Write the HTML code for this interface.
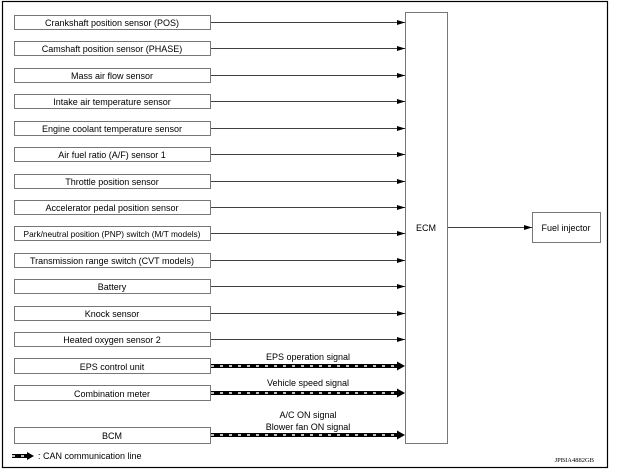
<!DOCTYPE html>
<html><head><style>
body{margin:0;background:#fff;}
svg{display:block;font-family:"Liberation Sans",Arial,sans-serif;}
</style></head><body>
<svg width="622" height="475" viewBox="0 0 622 475" xmlns="http://www.w3.org/2000/svg">
<defs>
<marker id="a" markerWidth="8" markerHeight="6" refX="8" refY="3" orient="auto" markerUnits="userSpaceOnUse"><path d="M0,0.5 L8,3 L0,5.5z" fill="#000"/></marker>
</defs>
<rect x="2.5" y="1.5" width="605" height="466" fill="none" stroke="#000" stroke-width="1.2"/>
<g font-size="9" text-anchor="middle" fill="#000">
<g stroke="#555" stroke-width="0.8" fill="none">
<rect x="14.5" y="15.5" width="196" height="14"/>
<rect x="14.5" y="41.5" width="196" height="14"/>
<rect x="14.5" y="68.5" width="196" height="14"/>
<rect x="14.5" y="94.5" width="196" height="14"/>
<rect x="14.5" y="121.5" width="196" height="14"/>
<rect x="14.5" y="147.5" width="196" height="14"/>
<rect x="14.5" y="174.5" width="196" height="14"/>
<rect x="14.5" y="200.5" width="196" height="14"/>
<rect x="14.5" y="226.5" width="196" height="14"/>
<rect x="14.5" y="253.5" width="196" height="14"/>
<rect x="14.5" y="279.5" width="196" height="14"/>
<rect x="14.5" y="306.5" width="196" height="14"/>
<rect x="14.5" y="332.5" width="196" height="14"/>
<rect x="14.5" y="358.5" width="196" height="15"/>
<rect x="14.5" y="385.5" width="196" height="15"/>
<rect x="14.5" y="427.5" width="196" height="16"/>
<rect x="405.5" y="12.5" width="42" height="431"/>
<rect x="532.5" y="212.5" width="68" height="30"/>
</g>
<g stroke="#000" stroke-width="0.8" marker-end="url(#a)">
<line x1="211" y1="22.5" x2="405" y2="22.5"/>
<line x1="211" y1="48.5" x2="405" y2="48.5"/>
<line x1="211" y1="75.5" x2="405" y2="75.5"/>
<line x1="211" y1="101.5" x2="405" y2="101.5"/>
<line x1="211" y1="128.5" x2="405" y2="128.5"/>
<line x1="211" y1="154.5" x2="405" y2="154.5"/>
<line x1="211" y1="181.5" x2="405" y2="181.5"/>
<line x1="211" y1="207.5" x2="405" y2="207.5"/>
<line x1="211" y1="233.5" x2="405" y2="233.5"/>
<line x1="211" y1="260.5" x2="405" y2="260.5"/>
<line x1="211" y1="286.5" x2="405" y2="286.5"/>
<line x1="211" y1="313.5" x2="405" y2="313.5"/>
<line x1="211" y1="339.5" x2="405" y2="339.5"/>
<line x1="448" y1="227.5" x2="532" y2="227.5"/>
</g>
<g>
<line x1="211" y1="366" x2="398" y2="366" stroke="#000" stroke-width="4"/>
<line x1="211" y1="366" x2="398" y2="366" stroke="#fff" stroke-width="1.5" stroke-dasharray="3 6"/>
<path d="M397,361.5 L405,366 L397,370.5z" fill="#000"/>
<line x1="211" y1="393" x2="398" y2="393" stroke="#000" stroke-width="4"/>
<line x1="211" y1="393" x2="398" y2="393" stroke="#fff" stroke-width="1.5" stroke-dasharray="3 6"/>
<path d="M397,388.5 L405,393 L397,397.5z" fill="#000"/>
<line x1="211" y1="435" x2="398" y2="435" stroke="#000" stroke-width="4"/>
<line x1="211" y1="435" x2="398" y2="435" stroke="#fff" stroke-width="1.5" stroke-dasharray="3 6"/>
<path d="M397,430.5 L405,435 L397,439.5z" fill="#000"/>
<line x1="12" y1="456" x2="28" y2="456" stroke="#000" stroke-width="4"/>
<line x1="12" y1="456" x2="28" y2="456" stroke="#fff" stroke-width="1.5" stroke-dasharray="3 6"/>
<path d="M27,452 L34,456 L27,460z" fill="#000"/>
</g>
<text x="112" y="26">Crankshaft position sensor (POS)</text>
<text x="112" y="52">Camshaft position sensor (PHASE)</text>
<text x="112" y="79">Mass air flow sensor</text>
<text x="112" y="105">Intake air temperature sensor</text>
<text x="112" y="132">Engine coolant temperature sensor</text>
<text x="112" y="158">Air fuel ratio (A/F) sensor 1</text>
<text x="112" y="185">Throttle position sensor</text>
<text x="112" y="211">Accelerator pedal position sensor</text>
<text x="112" y="237" font-size="8.3">Park/neutral position (PNP) switch (M/T models)</text>
<text x="112" y="264">Transmission range switch (CVT models)</text>
<text x="112" y="290">Battery</text>
<text x="112" y="317">Knock sensor</text>
<text x="112" y="343">Heated oxygen sensor 2</text>
<text x="112" y="370">EPS control unit</text>
<text x="112" y="397">Combination meter</text>
<text x="112" y="439">BCM</text>
<text x="308" y="360">EPS operation signal</text>
<text x="308" y="386">Vehicle speed signal</text>
<text x="308" y="418">A/C ON signal</text>
<text x="308" y="430">Blower fan ON signal</text>
<text x="426" y="231">ECM</text>
<text x="566" y="231">Fuel injector</text>
<text x="38" y="459" text-anchor="start">: CAN communication line</text>
<text x="594" y="462" text-anchor="end" font-size="6.5" font-family="Liberation Serif,serif">JPBIA4882GB</text>
</g>
</svg>
</body></html>
